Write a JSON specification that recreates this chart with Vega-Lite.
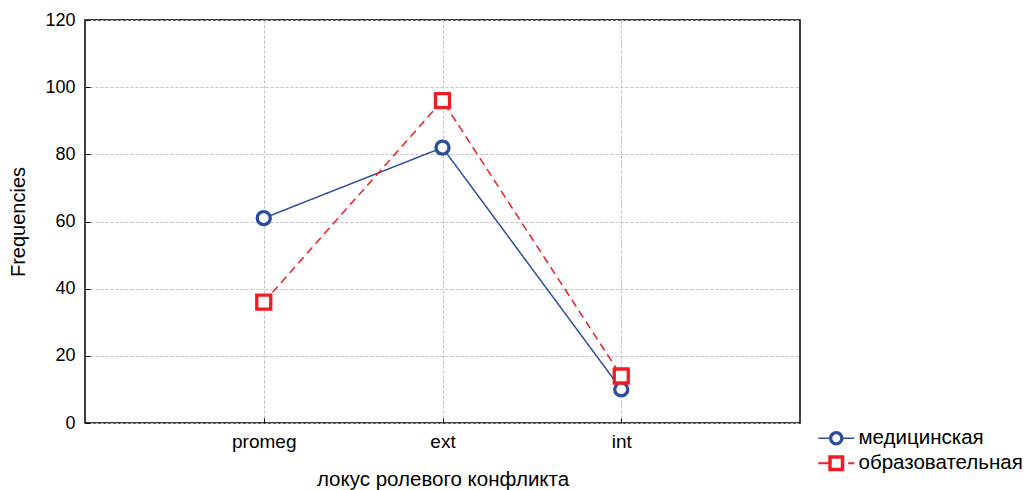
{
  "$schema": "https://vega.github.io/schema/vega-lite/v6.json",
  "width": 715,
  "height": 403,
  "autosize": "none",
  "padding": {"left": 85, "top": 20, "right": 228, "bottom": 67},
  "background": "white",
  "data": {
    "values": [
      {"series": "медицинская", "locus": "promeg", "value": 61},
      {"series": "медицинская", "locus": "ext", "value": 82},
      {"series": "медицинская", "locus": "int", "value": 10},
      {"series": "образовательная", "locus": "promeg", "value": 36},
      {"series": "образовательная", "locus": "ext", "value": 96},
      {"series": "образовательная", "locus": "int", "value": 14}
    ]
  },
  "encoding": {
    "x": {
      "field": "locus",
      "type": "nominal",
      "sort": ["promeg", "ext", "int"],
      "scale": {"type": "point", "padding": 1},
      "axis": {
        "title": "локус ролевого конфликта",
        "titleFontSize": 20.5,
        "labelFontSize": 19,
        "labelAngle": 0,
        "grid": true,
        "gridDash": [3, 2],
        "gridColor": "#c0c0c0",
        "domain": false,
        "tickSize": -5,
        "tickColor": "black",
        "labelPadding": 14,
        "titlePadding": 18
      }
    },
    "y": {
      "field": "value",
      "type": "quantitative",
      "scale": {"domain": [0, 120], "nice": false},
      "axis": {
        "title": "Frequencies",
        "titleFontSize": 20,
        "labelFontSize": 18,
        "values": [0, 20, 40, 60, 80, 100, 120],
        "grid": true,
        "gridDash": [3, 2],
        "gridColor": "#c0c0c0",
        "domain": false,
        "tickSize": -5,
        "tickColor": "black",
        "labelPadding": 15,
        "titlePadding": 16
      }
    }
  },
  "layer": [
    {
      "mark": {"type": "line", "strokeWidth": 1.5},
      "encoding": {
        "stroke": {
          "field": "series",
          "type": "nominal",
          "scale": {"range": ["#2E4DA0", "#EE1C25"]},
          "legend": null
        },
        "strokeDash": {
          "field": "series",
          "type": "nominal",
          "scale": {"range": [[1, 0], [8, 5]]},
          "legend": null
        }
      }
    },
    {
      "mark": {"type": "point", "filled": false, "fill": "white", "fillOpacity": 1, "opacity": 1, "strokeWidth": 3.3},
      "encoding": {
        "stroke": {
          "field": "series",
          "type": "nominal",
          "scale": {"range": ["#2E4DA0", "#EE1C25"]},
          "legend": null
        },
        "shape": {
          "condition": {"test": "datum.series === 'медицинская'", "value": "circle"},
          "value": "square"
        },
        "size": {
          "condition": {"test": "datum.series === 'медицинская'", "value": 170},
          "value": 196
        }
      }
    },
    {
      "mark": {"type": "point", "filled": true, "opacity": 0},
      "encoding": {
        "color": {
          "field": "series",
          "type": "nominal",
          "scale": {"domain": ["медицинская", "образовательная"], "range": ["#2E4DA0", "#EE1C25"]},
          "legend": {
            "title": null,
            "orient": "none",
            "legendX": 741,
            "legendY": 408,
            "padding": 0,
            "symbolSize": 400,
            "symbolStrokeWidth": 0,
            "symbolOpacity": 1,
            "labelOffset": 12,
            "labelLimit": 400,
            "rowPadding": 4,
            "labelFont": "Liberation Sans",
            "labelFontSize": 20.5,
            "labelColor": "black",
            "encode": {"symbols": {"update": {"opacity": {"value": 1}, "fillOpacity": {"value": 1}}}}
          }
        },
        "shape": {
          "field": "series",
          "type": "nominal",
          "scale": {
            "domain": ["медицинская", "образовательная"],
            "range": [
              "M-1.8,-0.08H-0.6V0.08H-1.8Z M0.6,-0.08H1.8V0.08H0.6Z M0.72,0A0.72,0.72 0 1,1 -0.72,0A0.72,0.72 0 1,1 0.72,0Z M0.4,0A0.4,0.4 0 1,0 -0.4,0A0.4,0.4 0 1,0 0.4,0Z",
              "M-1.8,-0.1H-0.8V0.1H-1.8Z M-0.8,-0.8H0.8V0.8H-0.8Z M-0.45,-0.45V0.45H0.45V-0.45Z M1.2,-0.1H1.8V0.1H1.2Z"
            ]
          }
        }
      }
    }
  ],
  "config": {
    "view": {"stroke": "black", "strokeWidth": 1.5},
    "font": "Liberation Sans",
    "axis": {
      "labelFont": "Liberation Sans",
      "labelColor": "black",
      "titleFont": "Liberation Sans",
      "titleFontWeight": "normal",
      "titleColor": "black"
    }
  }
}
